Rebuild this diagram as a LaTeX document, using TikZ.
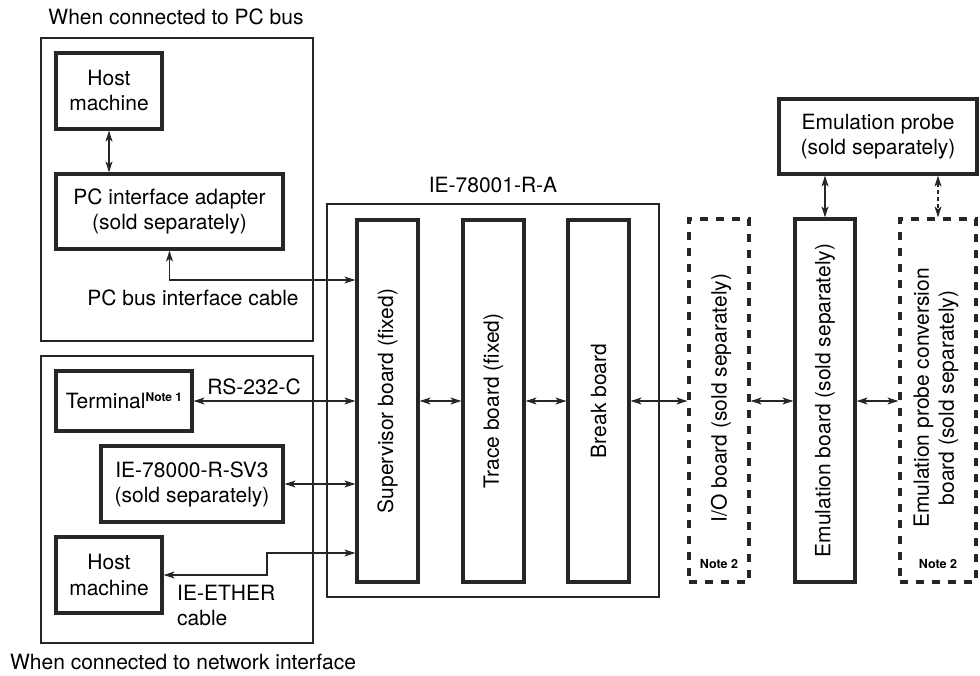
\documentclass[tikz,border=0pt]{standalone}
\usepackage{fontspec}
\setmainfont{TeX Gyre Heros}
\usetikzlibrary{arrows.meta}
\begin{document}
\begin{tikzpicture}[x=1pt,y=-1pt,
  font=\fontsize{21}{25}\selectfont,
  outer/.style={draw=black!85, line width=1.1pt, inner sep=0pt},
  box/.style={draw=black!85, line width=3.2pt, inner sep=0pt, align=center},
  dbox/.style={draw=black!85, line width=3.2pt, inner sep=0pt, dash pattern=on 8pt off 8pt},
  txt/.style={inner sep=0pt, align=center},
  vtxt/.style={inner sep=0pt, align=center, rotate=90},
  notetxt/.style={inner sep=0pt, font=\fontsize{12.5}{14}\selectfont\bfseries},
  arr/.style={draw=black!85, line width=1.1pt, {Stealth[length=11pt,width=7pt,inset=3pt]}-{Stealth[length=11pt,width=7pt,inset=3pt]}},
  darr/.style={arr, dash pattern=on 4pt off 3pt}
]
\useasboundingbox (0,0) rectangle (980,676);

% ---- PC bus group
\node[txt] (t1) at (176,17) {When connected to PC bus};
\node[outer, minimum width=272, minimum height=303] (g1) at (177,189.5) {};
\node[box, minimum width=106, minimum height=76] (host1) at (109,91) {Host\\machine};
\node[box, minimum width=227, minimum height=75] (adapt) at (169.5,211.5) {PC interface adapter\\(sold separately)};
\node[txt] (pclab) at (193,298) {PC bus interface cable};

% ---- network group
\node[outer, minimum width=272, minimum height=287] (g2) at (177,499.5) {};
\node[txt] (t2) at (183,662) {When connected to network interface};
\node[box, minimum width=136, minimum height=60] (term) at (124,401) {Terminal\raisebox{7pt}{\fontsize{12}{12}\selectfont\bfseries Note 1}};
\node[txt] (rs) at (254,387) {RS-232-C};
\node[box, minimum width=182, minimum height=76] (sv3) at (192,484) {IE-78000-R-SV3\\(sold separately)};
\node[box, minimum width=106, minimum height=76] (host2) at (109,575) {Host\\machine};
\node[txt, align=left, anchor=west] (eth) at (177,606) {IE-ETHER\\cable};

% ---- IE-78001-R-A
\node[txt] (ielab) at (493,185) {IE-78001-R-A};
\node[outer, minimum width=332, minimum height=393] (ie) at (493,400.5) {};
\node[box, minimum width=61, minimum height=362] (sup) at (387.5,401) {};
\node[vtxt] (suptxt) at (sup.center) {Supervisor board (fixed)};
\node[box, minimum width=61, minimum height=362] (trace) at (493.5,401) {};
\node[vtxt] (tracetxt) at (trace.center) {Trace board (fixed)};
\node[box, minimum width=61, minimum height=362] (brk) at (598.5,401) {};
\node[vtxt] (brktxt) at (brk.center) {Break board};

% ---- right side boards
\node[dbox, minimum width=60, minimum height=363] (io) at (719,400.5) {};
\node[vtxt] (iotxt) at (721,398) {I/O board (sold separately)};
\node[notetxt] (n2a) at (719,564) {Note 2};
\node[box, minimum width=60, minimum height=363] (emu) at (825,400.5) {};
\node[vtxt] (emutxt) at (emu.center) {Emulation board (sold separately)};
\node[dbox, minimum width=76, minimum height=363] (conv) at (938,400.5) {};
\node[vtxt] (convtxt) at (936,398) {Emulation probe conversion\\board (sold separately)};
\node[notetxt] (n2b) at (938,564) {Note 2};
\node[box, minimum width=198, minimum height=75] (probe) at (878,136.5) {Emulation probe\\(sold separately)};

% ---- connectors
\coordinate (pcy) at (0,280);
\coordinate (by) at (0,401);
\coordinate (e1) at (267,553);
\draw[arr] (host1.south) -- (host1.south |- adapt.north);
\draw[arr] (adapt.south) |- (sup.west |- pcy);
\draw[arr] (term.east) -- (term.east -| sup.west);
\draw[arr] (sv3.east) -- (sv3.east -| sup.west);
\draw[arr] (sup.west |- e1) -- (e1) |- (host2.east);
\draw[arr] (sup.east |- by) -- (trace.west |- by);
\draw[arr] (trace.east |- by) -- (brk.west |- by);
\draw[arr] (brk.east |- by) -- (io.west |- by);
\draw[arr] (io.east |- by) -- (emu.west |- by);
\draw[arr] (emu.east |- by) -- (conv.west |- by);
\draw[arr] (emu.north |- probe.south) -- (emu.north);
\draw[darr] (conv.north |- probe.south) -- (conv.north);
\end{tikzpicture}
\end{document}
